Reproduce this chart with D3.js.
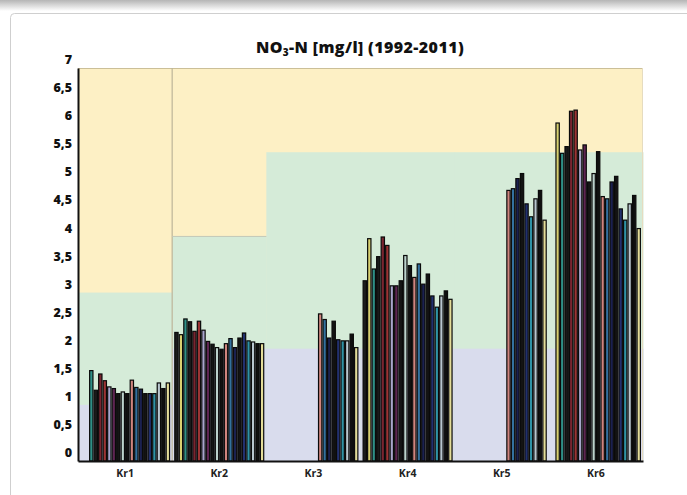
<!DOCTYPE html>
<html><head><meta charset="utf-8">
<script src="https://cdn.jsdelivr.net/npm/d3@7"></script>
<style>body{margin:0;background:#fff}svg{display:block}</style>
</head><body>
<svg id="c" width="687" height="495"></svg>
<script>
const categories = ["Kr1","Kr2","Kr3","Kr4","Kr5","Kr6"];
const years = [1992,1993,1994,1995,1996,1997,1998,1999,2000,2001,2002,2003,2004,2005,2006,2007,2008,2009,2010,2011];
const kr1 = [null,null,1.61,1.26,1.55,1.43,1.32,1.29,1.2,1.23,1.2,1.44,1.31,1.28,1.2,1.2,1.2,1.39,1.29,1.39];
const kr2 = [2.29,2.25,2.53,2.48,2.31,2.49,2.33,2.13,2.08,2.02,1.99,2.09,2.18,2.02,2.19,2.28,2.14,2.12,2.09,2.09];
const kr3 = [null,null,null,null,null,null,null,null,null,null,null,2.62,2.52,2.19,2.49,2.16,2.14,2.14,2.26,2.02];
const kr4 = [3.21,3.96,3.42,3.64,3.99,3.84,3.12,3.12,3.21,3.66,3.48,3.27,3.51,3.15,3.33,2.94,2.74,2.94,3.03,2.88];
const kr5 = [null,null,null,null,null,null,null,null,null,null,null,4.82,4.85,5.03,5.12,4.58,4.35,4.67,4.82,4.29];
const kr6 = [null,6.02,5.48,5.6,6.23,6.25,5.54,5.63,4.97,5.12,5.51,4.71,4.67,4.97,5.07,4.49,4.29,4.58,4.73,4.14];
const seriesByCategory = [kr1,kr2,kr3,kr4,kr5,kr6];
const yearColors = ["#1c1c1c","#d8d070","#2f8f86","#1a1a1a","#7a2530","#9c3434","#a9a5cc","#5e2552","#151515","#bcd2cc",
                    "#111111","#cf847e","#33719f","#1b2150","#131313","#22306e","#2f93a6","#b8c6cf","#0f0f0f","#e3dc98"];
// quality class limits per category
const lowLimit = [1,2,2,2,2,2];
const midLimit = [3,4,5.5,5.5,5.5,5.5];
const yTicks = [0,0.5,1,1.5,2,2.5,3,3.5,4,4.5,5,5.5,6,6.5,7];

(function(){
const svg = d3.select("#c");
const defs = svg.append("defs");
const g0 = defs.append("linearGradient").attr("id","topg").attr("x1",0).attr("y1",0).attr("x2",0).attr("y2",1);
g0.append("stop").attr("offset","0%").attr("stop-color","#b5b5b5");
g0.append("stop").attr("offset","100%").attr("stop-color","#ffffff");
svg.append("rect").attr("x",0).attr("y",0).attr("width",687).attr("height",11).attr("fill","url(#topg)");
svg.append("rect").attr("x",10.5).attr("y",13.5).attr("width",720).attr("height",520).attr("rx",4)
  .attr("fill","#fff").attr("stroke","#cfcfcf");

const pL = 78, pR = 643, pT = 68, pB = 461;
const x = d3.scaleBand().domain(categories).range([pL,pR]).padding(0);
const x1 = d3.scaleBand().domain(years).range([0,x.bandwidth()]).paddingInner(0).paddingOuter(0.45);
const y = d3.scaleLinear().domain([0,7]).range([pB,pT]);

// backgrounds
svg.append("rect").attr("x",pL).attr("y",pT).attr("width",pR-pL).attr("height",pB-pT).attr("fill","#fdf0c5");
categories.forEach((c,i)=>{
  svg.append("rect").attr("x",x(c)).attr("y",y(midLimit[i])).attr("width",x.bandwidth()+0.5)
    .attr("height",y(0)-y(midLimit[i])).attr("fill","#d5ebd8");
  svg.append("rect").attr("x",x(c)).attr("y",y(lowLimit[i])).attr("width",x.bandwidth()+0.5)
    .attr("height",y(0)-y(lowLimit[i])).attr("fill","#d9dced");
});
svg.append("line").attr("x1",pL).attr("x2",pR).attr("y1",pT+0.5).attr("y2",pT+0.5).attr("stroke","#cbbf98");
svg.append("line").attr("x1",pR-0.5).attr("x2",pR-0.5).attr("y1",pT).attr("y2",pB).attr("stroke","#e6dcc0");
svg.append("line").attr("x1",x("Kr2")).attr("x2",x("Kr2")).attr("y1",pT).attr("y2",pB).attr("stroke","#bdb59a").attr("stroke-width",1.2);
svg.append("line").attr("x1",x("Kr2")).attr("x2",x("Kr3")).attr("y1",y(4)).attr("y2",y(4)).attr("stroke","#c3c8b8").attr("stroke-width",1);

// bars
categories.forEach((c,i)=>{
  const vals = seriesByCategory[i];
  svg.append("g").selectAll("rect").data(years.map((yr,j)=>({yr,v:vals[j],col:yearColors[j]})).filter(d=>d.v!=null))
    .join("rect")
    .attr("x",d=>x(c)+x1(d.yr)+0.6)
    .attr("y",d=>y(d.v))
    .attr("width",x1.bandwidth()-1.2)
    .attr("height",d=>y(0)-y(d.v))
    .attr("fill",d=>d.col)
    .attr("stroke","#0a0a0a")
    .attr("stroke-width",1.2);
});

// axes
const yAxis = d3.axisLeft(y).tickValues(yTicks).tickSize(0).tickPadding(6)
  .tickFormat(d=>String(d).replace(".",","));
const ya = svg.append("g").attr("transform",`translate(${pL},0)`).call(yAxis);
ya.select(".domain").attr("stroke","#111").attr("stroke-width",2);
ya.selectAll("text").attr("font-family","'Open Sans',sans-serif").attr("font-weight","800")
  .attr("font-size",12.5).attr("fill","#111").attr("dy","-0.35em");

const xAxis = d3.axisBottom(x).tickSize(0).tickPadding(9);
const xa = svg.append("g").attr("transform",`translate(0,${pB})`).call(xAxis);
xa.select(".domain").attr("stroke","#111").attr("stroke-width",2);
xa.selectAll("text").attr("font-family","'Open Sans',sans-serif").attr("font-weight","bold")
  .attr("font-size",10.5).attr("fill","#222");

// title
const t = svg.append("text").attr("x",360).attr("y",53).attr("text-anchor","middle")
  .attr("font-family","'Open Sans',sans-serif").attr("font-weight","800").attr("font-size",16)
  .attr("letter-spacing",0.4).attr("fill","#111");
t.append("tspan").text("NO");
t.append("tspan").attr("font-size",10).attr("dy",3).text("3");
t.append("tspan").attr("dy",-3).text("-N [mg/l] (1992-2011)");
})();
</script>
</body></html>
